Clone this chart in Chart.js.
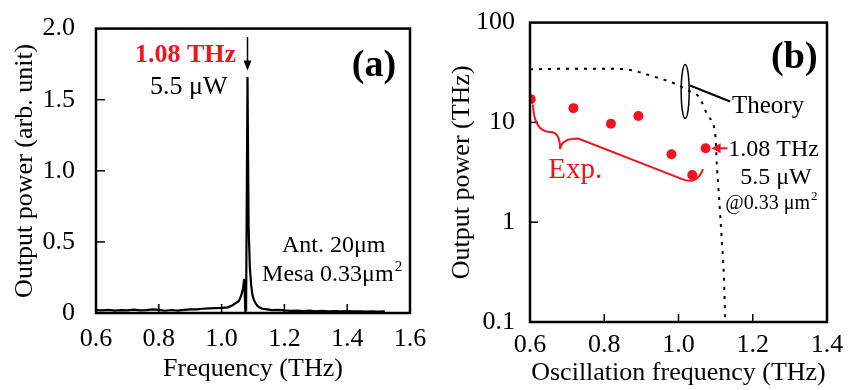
<!DOCTYPE html>
<html>
<head>
<meta charset="utf-8">
<script src="https://cdn.jsdelivr.net/npm/chart.js@4.4.1/dist/chart.umd.min.js"></script>
<style>
  html, body { margin: 0; padding: 0; background: #fff; }
  #wrap { position: relative; width: 853px; height: 390px; overflow: hidden; }
  #chartA { position: absolute; left: 0; top: 0; }
  #chartB { position: absolute; left: 420px; top: 0; }
</style>
</head>
<body>
<div id="wrap">
  <canvas id="chartA" width="440" height="390"></canvas>
  <canvas id="chartB" width="433" height="390"></canvas>
</div>
<script>
// (a) emission spectrum
const spectrumFreq = [
  0.60, 0.62, 0.64, 0.66, 0.68, 0.70, 0.72, 0.74, 0.76, 0.78,
  0.80, 0.82, 0.84, 0.86, 0.88, 0.90, 0.92, 0.94, 0.96, 0.98,
  1.00, 1.02, 1.035, 1.045, 1.055, 1.062, 1.068, 1.072, 1.074, 1.0755,
  1.078, 1.0825, 1.086, 1.090, 1.094, 1.098, 1.103, 1.108,
  1.114, 1.12, 1.13, 1.14, 1.16, 1.18, 1.20, 1.22, 1.24, 1.26,
  1.28, 1.30, 1.32, 1.34, 1.36, 1.38, 1.40, 1.42, 1.44, 1.46,
  1.48, 1.50, 1.52
];
const spectrumPower = [
  0.020, 0.018, 0.022, 0.017, 0.020, 0.019, 0.023, 0.018, 0.020, 0.025,
  0.022, 0.016, 0.021, 0.017, 0.022, 0.025, 0.026, 0.030, 0.032, 0.034,
  0.036, 0.040, 0.055, 0.070, 0.085, 0.12, 0.17, 0.24, 0.12, 0.01,
  0.02, 1.66, 0.60, 0.32, 0.20, 0.13, 0.09, 0.07,
  0.05, 0.04, 0.03, 0.027, 0.020, 0.022, 0.018, 0.015, 0.017, 0.014,
  0.016, 0.012, 0.015, 0.011, 0.013, 0.012, 0.014, 0.011, 0.012, 0.010,
  0.012, 0.010, 0.011
];
const ticksFreqA = [0.6, 0.8, 1.0, 1.2, 1.4, 1.6];
const ticksPowerA = [0, 0.5, 1.0, 1.5, 2.0];

// (b) output power vs oscillation frequency
const expFreq = [0.602, 0.717, 0.818, 0.892, 0.981, 1.037, 1.073];
const expPower = [17.1, 13.9, 9.7, 11.6, 4.8, 2.97, 5.5];
const theoryFreq = [0.6, 0.7, 0.8, 0.86, 0.93, 0.99, 1.03, 1.055, 1.08, 1.10, 1.103, 1.108, 1.117, 1.122, 1.126];
const theoryPower = [34, 34.5, 34.5, 34, 29, 24.5, 20.5, 18, 11.5, 7, 3.9, 2.1, 0.62, 0.3, 0.1];
const ticksFreqB = [0.6, 0.8, 1.0, 1.2, 1.4];
const ticksPowerB = [0.1, 1, 10, 100];

const SERIF = "'Liberation Serif', 'Times New Roman', serif";
const RED = '#f0141e';

function toPoints (xs, ys) {
  return xs.map(function (x, i) { return {x: x, y: ys[i]}; });
}

function fixedTicks (list) {
  return function (scale) {
    scale.ticks = list.map(function (v) { return {value: v}; });
  };
}

// closed box with inward tick marks
function frame (tickLen) {
  return {
    id: 'frame',
    afterDraw: function (chart) {
      var ctx = chart.ctx, a = chart.chartArea,
        sx = chart.scales.x, sy = chart.scales.y;
      ctx.save();
      ctx.strokeStyle = '#000';
      ctx.lineWidth = 1.5;
      sx.ticks.forEach(function (t) {
        var px = sx.getPixelForValue(t.value);
        if (px <= a.left + 1 || px >= a.right - 1) return;
        ctx.beginPath();
        ctx.moveTo(px, a.bottom);
        ctx.lineTo(px, a.bottom - tickLen);
        ctx.stroke();
      });
      sy.ticks.forEach(function (t) {
        var py = sy.getPixelForValue(t.value);
        if (py <= a.top + 1 || py >= a.bottom - 1) return;
        ctx.beginPath();
        ctx.moveTo(a.left, py);
        ctx.lineTo(a.left + tickLen, py);
        ctx.stroke();
      });
      ctx.lineWidth = 2.5;
      ctx.strokeRect(a.left, a.top, a.right - a.left, a.bottom - a.top);
      ctx.restore();
    }
  };
}

function label (ctx, text, x, y, font, color, align) {
  ctx.font = font;
  ctx.fillStyle = color || '#000';
  ctx.textAlign = align || 'left';
  ctx.textBaseline = 'alphabetic';
  ctx.fillText(text, x, y);
  return ctx.measureText(text).width;
}

function axisOptions (min, max, ticks, fmt, title, o) {
  return {
    x: {
      type: 'linear', min: min, max: max,
      afterBuildTicks: fixedTicks(ticks),
      afterFit: function (s) { s.height = o.xHeight; },
      grid: {display: false}, border: {display: false},
      ticks: {
        color: '#000', padding: o.xPad, maxRotation: 0,
        font: {family: SERIF, size: 26},
        callback: function (v) { return v.toFixed(1); }
      },
      title: {
        display: true, text: title.x, color: '#000',
        font: {family: SERIF, size: 26}, padding: {top: 0, bottom: o.xTitlePad}
      }
    },
    y: {
      type: o.yType, min: o.yMin, max: o.yMax,
      afterBuildTicks: fixedTicks(o.yTicks),
      afterFit: function (s) { s.width = o.yWidth; },
      grid: {display: false}, border: {display: false},
      ticks: {
        color: '#000', padding: o.yPad,
        font: {family: SERIF, size: 26},
        callback: fmt
      },
      title: {
        display: true, text: title.y, color: '#000',
        font: {family: SERIF, size: 26}, padding: {top: o.yTitlePad, bottom: 0}
      }
    }
  };
}

let Fig = {

  setup: function () {
    this.drawSpectrum();
    this.drawPower();
  },

  drawSpectrum: function () {
    var notes = {
      id: 'notesA',
      afterDraw: function (chart) {
        var ctx = chart.ctx, sx = chart.scales.x, sy = chart.scales.y;
        var X = function (v) { return sx.getPixelForValue(v); };
        var Y = function (v) { return sy.getPixelForValue(v); };
        ctx.save();
        label(ctx, '1.08 THz', X(0.724), Y(1.767), 'bold 26px ' + SERIF, RED);
        label(ctx, '5.5 \u03bcW', X(0.772), Y(1.541), '26px ' + SERIF);
        label(ctx, '(a)', X(1.485), Y(1.664), 'bold 38px ' + SERIF, '#000', 'center');
        label(ctx, 'Ant. 20\u03bcm', X(1.192), Y(0.432), '24px ' + SERIF);
        var w = label(ctx, 'Mesa 0.33\u03bcm', X(1.129), Y(0.226), '24px ' + SERIF);
        label(ctx, '2', X(1.129) + w + 1, Y(0.226) - 10, '15px ' + SERIF);

        // arrow pointing at the peak
        var ax = X(1.0825), y0 = Y(1.94), y1 = Y(1.705);
        ctx.strokeStyle = '#000';
        ctx.lineWidth = 1.5;
        ctx.beginPath();
        ctx.moveTo(ax, y0);
        ctx.lineTo(ax, y1 - 8);
        ctx.stroke();
        ctx.fillStyle = '#000';
        ctx.beginPath();
        ctx.moveTo(ax - 4, y1 - 10);
        ctx.lineTo(ax + 4, y1 - 10);
        ctx.lineTo(ax, y1);
        ctx.closePath();
        ctx.fill();
        ctx.restore();
      }
    };

    new Chart(document.getElementById('chartA'), {
      type: 'scatter',
      data: {
        datasets: [{
          data: toPoints(spectrumFreq, spectrumPower),
          showLine: true,
          borderColor: '#000',
          borderWidth: 2.2,
          pointRadius: 0,
          tension: 0
        }]
      },
      options: {
        responsive: false,
        animation: false,
        events: [],
        layout: {padding: {left: 0, right: 30, top: 21, bottom: 0}},
        plugins: {legend: {display: false}, tooltip: {enabled: false}},
        scales: axisOptions(0.6, 1.6, ticksFreqA,
          function (v) { return v === 0 ? '0' : v.toFixed(1); },
          {x: 'Frequency (THz)', y: 'Output power (arb. unit)'},
          {
            xHeight: 77, xPad: 3, xTitlePad: 5,
            yType: 'linear', yMin: 0, yMax: 2, yTicks: ticksPowerA,
            yWidth: 96, yPad: 13, yTitlePad: 10
          })
      },
      plugins: [frame(9), notes]
    });
  },

  drawPower: function () {
    var notes = {
      id: 'notesB',
      afterDraw: function (chart) {
        var ctx = chart.ctx, sx = chart.scales.x, sy = chart.scales.y;
        var X = function (v) { return sx.getPixelForValue(v); };
        var Y = function (v) { return sy.getPixelForValue(v); };
        ctx.save();
        label(ctx, '(b)', X(1.312), Y(34.7), 'bold 38px ' + SERIF, '#000', 'center');
        label(ctx, 'Theory', X(1.144), Y(12.3), '25px ' + SERIF);
        label(ctx, '1.08 THz', X(1.134), Y(4.57), '24px ' + SERIF);
        label(ctx, '5.5 \u03bcW', X(1.166), Y(2.40), '24px ' + SERIF);
        var w = label(ctx, '@0.33 \u03bcm', X(1.126), Y(1.35), '20px ' + SERIF);
        label(ctx, '2', X(1.126) + w + 1, Y(1.35) - 9, '13px ' + SERIF);
        label(ctx, 'Exp.', X(0.649), Y(2.75), '29px ' + SERIF, RED);

        // ellipse around the theory curve and its leader line
        ctx.strokeStyle = '#000';
        ctx.lineWidth = 1.5;
        ctx.beginPath();
        ctx.ellipse(X(1.018), Y(20.4), 4, 27, 0, 0, Math.PI * 2);
        ctx.stroke();
        ctx.lineWidth = 2;
        ctx.beginPath();
        ctx.moveTo(X(1.031), Y(23.4));
        ctx.lineTo(X(1.139), Y(16.2));
        ctx.stroke();

        // red arrow to the 1.08 THz point
        var ay = Y(expPower[6]), ax0 = X(1.132), ax1 = X(expFreq[6]) + 6;
        ctx.strokeStyle = RED;
        ctx.fillStyle = RED;
        ctx.lineWidth = 2;
        ctx.beginPath();
        ctx.moveTo(ax0, ay);
        ctx.lineTo(ax1 + 6, ay);
        ctx.stroke();
        ctx.beginPath();
        ctx.moveTo(ax1, ay);
        ctx.lineTo(ax1 + 9, ay - 5);
        ctx.lineTo(ax1 + 9, ay + 5);
        ctx.closePath();
        ctx.fill();

        // brace grouping the experimental points
        ctx.beginPath();
        ctx.moveTo(X(0.608), Y(15.1));
        ctx.quadraticCurveTo(X(0.611), Y(8.0), X(0.655), Y(8.0));
        ctx.quadraticCurveTo(X(0.681), Y(8.0), X(0.681), Y(5.4));
        ctx.quadraticCurveTo(X(0.684), Y(6.9), X(0.73), Y(6.9));
        ctx.lineTo(X(1.01), Y(2.7));
        ctx.quadraticCurveTo(X(1.05), Y(2.35), X(1.066), Y(3.4));
        ctx.stroke();
        ctx.restore();
      }
    };

    new Chart(document.getElementById('chartB'), {
      type: 'scatter',
      data: {
        datasets: [{
          data: toPoints(theoryFreq, theoryPower),
          showLine: true,
          borderColor: '#000',
          borderWidth: 2,
          borderDash: [3, 6],
          pointRadius: 0,
          cubicInterpolationMode: 'monotone'
        }, {
          data: toPoints(expFreq, expPower),
          showLine: false,
          pointRadius: 5,
          pointBackgroundColor: RED,
          pointBorderWidth: 0
        }]
      },
      options: {
        responsive: false,
        animation: false,
        events: [],
        layout: {padding: {left: 0, right: 26, top: 21, bottom: 0}},
        plugins: {legend: {display: false}, tooltip: {enabled: false}},
        scales: axisOptions(0.6, 1.4, ticksFreqB,
          function (v) { return String(v); },
          {x: 'Oscillation frequency (THz)', y: 'Output power (THz)'},
          {
            xHeight: 68, xPad: 0, xTitlePad: 1,
            yType: 'logarithmic', yMin: 0.1, yMax: 100, yTicks: ticksPowerB,
            yWidth: 110, yPad: 7, yTitlePad: 27
          })
      },
      plugins: [frame(8), notes]
    });
  },
};

Fig.setup();
</script>
</body>
</html>
